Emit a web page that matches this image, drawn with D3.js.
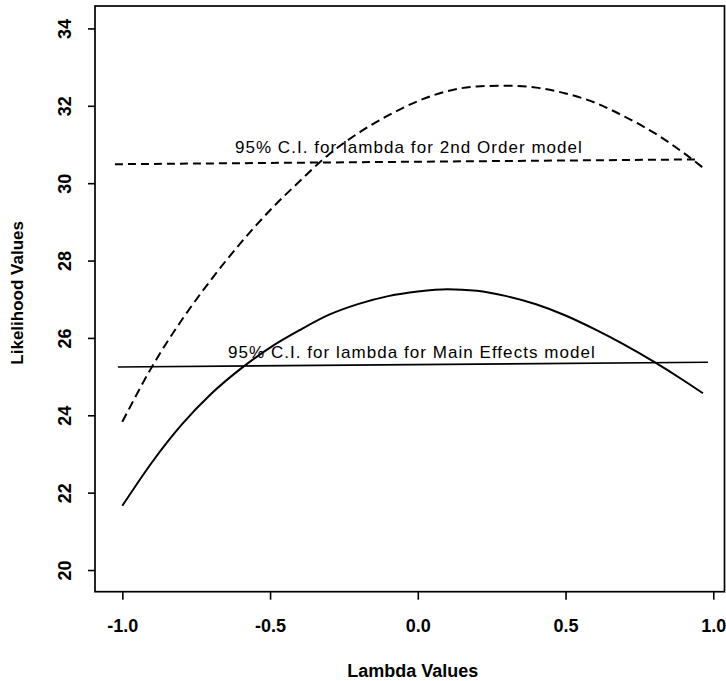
<!DOCTYPE html>
<html>
    <head>
        <meta charset="utf-8">
        <script src="https://d3js.org/d3.v7.min.js"></script>
        <style>
            body { margin: 0; background: #fff; }
            text { font-family: "Liberation Sans", Arial, Helvetica, sans-serif; fill: #000; }
        </style>
    </head>
    <body>
        <div id="area1"></div>

        <script>
            // lambda grid for the two profile likelihood curves
            var lambda = [-1.0, -0.9, -0.8, -0.7, -0.6, -0.5, -0.4, -0.3, -0.2, -0.1, 0.0,
                          0.1, 0.2, 0.3, 0.4, 0.5, 0.6, 0.7, 0.8, 0.9, 0.965];
            // 2nd order model (dashed)
            var secondOrder = [23.83, 25.25, 26.45, 27.5, 28.45, 29.3, 30.05, 30.75, 31.3, 31.75, 32.12,
                               32.38, 32.5, 32.52, 32.47, 32.32, 32.08, 31.72, 31.3, 30.78, 30.4];
            // main effects model (solid)
            var mainEffects = [21.66, 22.78, 23.75, 24.55, 25.2, 25.75, 26.2, 26.6, 26.88, 27.08, 27.2,
                               27.26, 27.22, 27.08, 26.87, 26.58, 26.22, 25.82, 25.38, 24.9, 24.57];

            // 95% C.I. cut-off lines [start, end]
            var ciSecondX = [-1.025, 0.954], ciSecondY = [30.49, 30.615];
            var ciMainX = [-1.015, 0.982], ciMainY = [25.25, 25.37];

            var labels = ["95% C.I. for lambda for 2nd Order model", "95% C.I. for lambda for Main Effects model"];
            var labelX = [-0.03, -0.02];
            var labelY = [30.78, 25.47];

            var xTicks = [-1.0, -0.5, 0.0, 0.5, 1.0];
            var yTicks = [20, 22, 24, 26, 28, 30, 32, 34];

            generateViz();

            function generateViz() {
                var w = 726, h = 681;
                var left = 95, right = 724.5, top = 6, bottom = 591.7;

                var svg = d3.select('#area1').append('svg').attr('width', w).attr('height', h);

                var x = d3.scaleLinear().domain([-1.0925, 1.038]).range([left, right]);
                var y = d3.scaleLinear().domain([19.44, 34.58]).range([bottom, top]);

                // axes: ticks only, the box is drawn separately
                var xAxis = svg.append('g').attr('transform', 'translate(0,' + bottom + ')')
                    .call(d3.axisBottom(x).tickValues(xTicks).tickSize(8).tickPadding(0)
                        .tickFormat(function(d) { return d.toFixed(1); }));
                xAxis.select('.domain').remove();
                xAxis.selectAll('line').attr('stroke', '#000').attr('stroke-width', 1.6);
                xAxis.selectAll('text').attr('y', 40.8).attr('dy', null)
                    .style('font-size', '18px').style('font-weight', 'bold').attr('fill', '#000');

                var yAxis = svg.append('g').attr('transform', 'translate(' + left + ',0)')
                    .call(d3.axisLeft(y).tickValues(yTicks).tickSize(7));
                yAxis.select('.domain').remove();
                yAxis.selectAll('line').attr('stroke', '#000').attr('stroke-width', 1.6);
                yAxis.selectAll('text')
                    .attr('x', null).attr('dy', null)
                    .attr('text-anchor', 'middle')
                    .attr('transform', 'translate(-24.5,0) rotate(-90)')
                    .style('font-size', '18px').style('font-weight', 'bold').attr('fill', '#000');

                // plot box
                svg.append('rect').attr('x', left).attr('y', top)
                    .attr('width', right - left).attr('height', bottom - top)
                    .attr('fill', 'none').attr('stroke', '#000').attr('stroke-width', 1.7);

                var line = d3.line()
                    .x(function(d) { return x(d[0]); })
                    .y(function(d) { return y(d[1]); })
                    .curve(d3.curveMonotoneX);

                svg.append('path').datum(d3.zip(lambda, secondOrder))
                    .attr('d', line).attr('fill', 'none')
                    .attr('stroke', '#000').attr('stroke-width', 2).attr('stroke-dasharray', '9,5');

                svg.append('path').datum(d3.zip(lambda, mainEffects))
                    .attr('d', line).attr('fill', 'none')
                    .attr('stroke', '#000').attr('stroke-width', 2);

                // cut-off lines
                var straight = d3.line().x(function(d) { return x(d[0]); }).y(function(d) { return y(d[1]); });
                svg.append('path').datum(d3.zip(ciSecondX, ciSecondY))
                    .attr('d', straight)
                    .attr('stroke', '#000').attr('stroke-width', 2).attr('stroke-dasharray', '8,5');
                svg.append('path').datum(d3.zip(ciMainX, ciMainY))
                    .attr('d', straight)
                    .attr('stroke', '#000').attr('stroke-width', 1.6);

                svg.selectAll('text.label').data(labels).enter().append('text')
                    .attr('class', 'label')
                    .attr('x', function(d, i) { return x(labelX[i]); })
                    .attr('y', function(d, i) { return y(labelY[i]); })
                    .attr('text-anchor', 'middle')
                    .style('font-size', '17px')
                    .style('letter-spacing', '1.05px')
                    .text(function(d) { return d; });

                // axis titles
                svg.append('text').attr('x', (left + right) / 2 + 3).attr('y', 677)
                    .attr('text-anchor', 'middle')
                    .style('font-size', '18px').style('font-weight', 'bold')
                    .text('Lambda Values');
                svg.append('text')
                    .attr('transform', 'translate(23,' + ((top + bottom) / 2 - 6) + ') rotate(-90)')
                    .attr('text-anchor', 'middle')
                    .style('font-size', '17px').style('font-weight', 'bold')
                    .text('Likelihood Values');
            }
        </script>
    </body>
</html>
